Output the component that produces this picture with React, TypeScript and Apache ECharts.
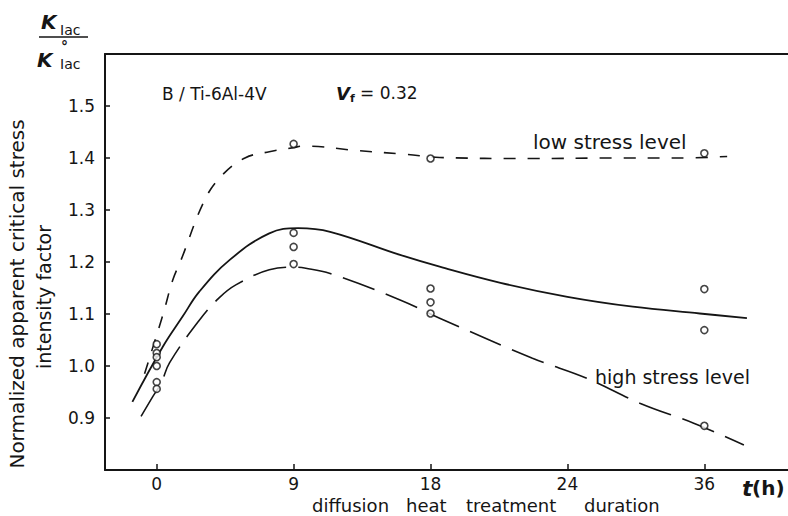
import React, { useEffect, useRef } from "react";
import * as echarts from "echarts";

// Tick values (hours) and their printed labels (the original prints "24" at the 27 h position)
const xTickValues = [0, 9, 18, 27, 36];
const xTickLabels = ["0", "9", "18", "24", "36"];
const yTickValues = [0.9, 1.0, 1.1, 1.2, 1.3, 1.4, 1.5];

// Fitted curves
const lowX = [-0.8, 0.13, 0.5, 1.05, 1.6, 3.15, 4.3, 5.8, 7.4, 9.0, 9.6, 13.3, 16.4, 18.6, 24.5, 30.0, 34.4, 37.5];
const lowY = [0.985, 1.072, 1.108, 1.165, 1.204, 1.319, 1.367, 1.4, 1.412, 1.42, 1.423, 1.414, 1.407, 1.401, 1.399, 1.4, 1.4, 1.403];

const avgX = [-1.6, 0.4, 1.7, 2.8, 4.8, 7.4, 9.3, 11.4, 16.0, 18.6, 22.6, 27.0, 31.3, 35.7, 38.8];
const avgY = [0.931, 1.037, 1.095, 1.143, 1.204, 1.255, 1.265, 1.258, 1.2135, 1.191, 1.16, 1.133, 1.114, 1.101, 1.092];

const highX = [-1.03, -0.26, 0.29, 0.84, 2.8, 4.1, 5.2, 7.4, 9.0, 9.8, 11.4, 16.0, 18.6, 24.7, 28.3, 31.8, 35.3, 38.6];
const highY = [0.903, 0.941, 0.967, 1.006, 1.088, 1.131, 1.156, 1.185, 1.19, 1.188, 1.178, 1.127, 1.092, 1.015, 0.976, 0.928, 0.89, 0.848];

// Measured points
const ptsX = [0, 0, 0, 0, 0, 0, 9, 9, 9, 9, 18, 18, 18, 18, 36, 36, 36, 36];
const ptsY = [1.042, 1.025, 1.017, 1.0, 0.969, 0.956, 1.427, 1.256, 1.229, 1.196, 1.399, 1.149, 1.1225, 1.101, 1.409, 1.148, 1.069, 0.885];

const FONT = "'DejaVu Sans', 'Noto Sans', sans-serif";
const INK = "#151515";

const zip = (xs: number[], ys: number[]) => xs.map((x, i) => [x, ys[i]]);

export default function App() {
  const ref = useRef<HTMLDivElement>(null);
  useEffect(() => {
    if (!ref.current) return;
    const chart = echarts.init(ref.current, undefined, { renderer: "svg" });
    const txt = (text: string, x: number, y: number, size: number, extra: any = {}) => ({
      type: "text",
      x,
      y,
      ...(extra.rotation !== undefined ? { rotation: extra.rotation } : {}),
      style: {
        text,
        fill: INK,
        fontFamily: FONT,
        fontSize: size,
        fontWeight: extra.fontWeight || "normal",
        fontStyle: extra.fontStyle || "normal",
        align: extra.align || "left",
        verticalAlign: extra.verticalAlign || "middle",
        ...(extra.rich ? { rich: extra.rich } : {}),
      },
    });
    const option: any = {
      animation: false,
      backgroundColor: "#ffffff",
      grid: { left: 105, right: 0, top: 54, bottom: 46, containLabel: false },
      xAxis: [
        {
          type: "value",
          min: -3.4,
          max: 41.5,
          axisLine: { show: true, onZero: false, lineStyle: { color: INK, width: 2 } },
          axisTick: { show: true, inside: true, length: 6, customValues: xTickValues, lineStyle: { color: INK, width: 1.5 } },
          axisLabel: {
            show: true,
            customValues: xTickValues,
            margin: 5,
            color: INK,
            fontFamily: FONT,
            fontSize: 17,
            formatter: (v: number) => {
              const i = xTickValues.indexOf(Math.round(v));
              return i >= 0 ? xTickLabels[i] : "";
            },
          },
          splitLine: { show: false },
        },
        {
          type: "value",
          position: "top",
          min: -3.4,
          max: 41.5,
          axisLine: { show: true, onZero: false, lineStyle: { color: INK, width: 2 } },
          axisTick: { show: false },
          axisLabel: { show: false },
          splitLine: { show: false },
        },
      ],
      yAxis: {
        type: "value",
        min: 0.8,
        max: 1.6,
        axisLine: { show: true, onZero: false, lineStyle: { color: INK, width: 2 } },
        axisTick: { show: true, inside: true, length: 5, customValues: yTickValues, lineStyle: { color: INK, width: 1.5 } },
        axisLabel: {
          show: true,
          customValues: yTickValues,
          margin: 10,
          color: INK,
          fontFamily: FONT,
          fontSize: 17,
          formatter: (v: number) => v.toFixed(1),
        },
        splitLine: { show: false },
      },
      series: [
        {
          name: "low stress level",
          type: "line",
          data: zip(lowX, lowY),
          smooth: 0.4,
          showSymbol: false,
          lineStyle: { color: INK, width: 1.6, type: [12, 12] },
        },
        {
          name: "average",
          type: "line",
          data: zip(avgX, avgY),
          smooth: 0.4,
          showSymbol: false,
          lineStyle: { color: INK, width: 1.8, type: "solid" },
        },
        {
          name: "high stress level",
          type: "line",
          data: zip(highX, highY),
          smooth: 0.4,
          showSymbol: false,
          lineStyle: { color: INK, width: 1.6, type: [34, 12] },
        },
        {
          name: "measured",
          type: "scatter",
          data: zip(ptsX, ptsY),
          symbol: "circle",
          symbolSize: 7,
          itemStyle: { color: "#ffffff", borderColor: INK, borderWidth: 1.6 },
          z: 5,
        },
      ],
      graphic: [
        // fraction K_Iac / K°_Iac
        txt("K", 41, 22, 20, { fontWeight: "bold", fontStyle: "italic" }),
        txt("Iac", 60, 30, 14),
        { type: "line", shape: { x1: 39, y1: 37, x2: 88, y2: 37 }, style: { stroke: INK, lineWidth: 1.6 } },
        txt("K", 37, 60, 20, { fontWeight: "bold", fontStyle: "italic" }),
        txt("°", 61, 46, 14, { fontWeight: "bold" }),
        txt("Iac", 60, 64, 14),
        // y axis title
        txt("Normalized apparent critical stress", 17, 294, 20, { rotation: Math.PI / 2, align: "center" }),
        txt("intensity factor", 44, 297, 19, { rotation: Math.PI / 2, align: "center" }),
        // material label
        txt("B / Ti-6Al-4V", 162, 94, 17),
        txt("{v|V}{f|f} = 0.32", 336, 93, 17, {
          rich: {
            v: { fontFamily: FONT, fontSize: 18, fontWeight: "bold", fontStyle: "italic", fill: INK, color: INK },
            f: { fontFamily: FONT, fontSize: 11, fontWeight: "bold", fill: INK, color: INK, padding: [10, 0, 0, 0] },
          },
        }),
        // curve labels
        txt("low stress level", 533, 142, 20),
        txt("high stress level", 595, 377, 19),
        // x axis title
        txt("diffusion", 312, 514, 18, { verticalAlign: "bottom" }),
        txt("heat", 406, 514, 18, { verticalAlign: "bottom" }),
        txt("treatment", 466, 514, 18, { verticalAlign: "bottom" }),
        txt("duration", 584, 514, 18, { verticalAlign: "bottom" }),
        txt("t", 742, 488, 22, { fontWeight: "bold", fontStyle: "italic" }),
        txt("(h)", 752, 488, 20, { fontWeight: "bold" }),
      ],
    };
    chart.setOption(option);
    return () => chart.dispose();
  }, []);
  return <div ref={ref} style={{ position: "fixed", left: 0, top: 0, width: 788, height: 516 }} />;
}
